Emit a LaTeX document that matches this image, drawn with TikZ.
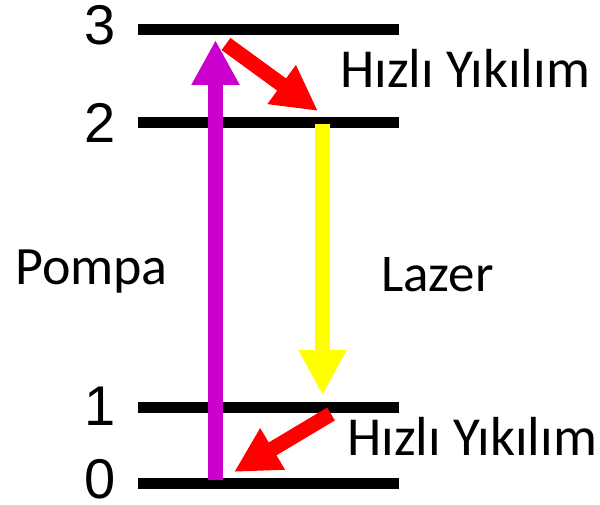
\documentclass[tikz,border=0pt]{standalone}
\usepackage{fontspec}
\setmainfont{Carlito}
\newfontfamily\digitfont{Liberation Sans}
\usetikzlibrary{arrows.meta}
\definecolor{pumpcol}{RGB}{204,0,204}
\definecolor{decaycol}{RGB}{255,0,0}
\definecolor{lasercol}{RGB}{255,255,0}
\tikzset{
  level/.style={line width=11pt},
  lvlnum/.style={inner sep=0pt, font=\digitfont\fontsize{56}{60}\selectfont},
  lbl/.style={inner sep=0pt, anchor=base west, font=\fontsize{53}{60}\selectfont},
  fat/.style={line width=15pt, -{Triangle[width=45pt,length=45pt]}}
}
\begin{document}
\begin{tikzpicture}[x=1pt,y=-1pt]
      \useasboundingbox (0,0) rectangle (600,505);
      \draw
        (100,25) node[lvlnum] (3){3}
        (100,123) node[lvlnum] (2){2}
        (100,406) node[lvlnum] (1){1}
        (100,479) node[lvlnum] (0){0};
      \coordinate (l3w) at (138,30);  \coordinate (l3e) at (399,30);
      \coordinate (l2w) at (138,123); \coordinate (l2e) at (399,123);
      \coordinate (l1w) at (138,407); \coordinate (l1e) at (399,407);
      \coordinate (l0w) at (138,483); \coordinate (l0e) at (399,483);
      \begin{scope}[level]
        \draw (l3w) to (l3e);
        \draw (l2w) to (l2e);
        \draw (l1w) to (l1e);
        \draw (l0w) to (l0e);
      \end{scope}
      % arrow ends
      \coordinate (pb) at (215.5,480); \coordinate (pt) at (215.5,40);
      \coordinate (ua) at (226,44);    \coordinate (ub) at (318,111);
      \coordinate (la) at (322.5,124); \coordinate (lb) at (322.5,395);
      \coordinate (da) at (331,414);   \coordinate (db) at (234,472);
      \begin{scope}[fat]
        \draw[pumpcol] (pb) to (pt);
        \draw[decaycol] (ua) to (ub);
        \draw[lasercol] (la) to (lb);
        \draw[decaycol] (da) to (db);
      \end{scope}
      \node[lbl, font=\fontsize{55}{60}\selectfont] (fast1) at (340,88) {Hızlı Yıkılım};
      \node[lbl, font=\fontsize{55}{60}\selectfont] (fast0) at (347,455) {Hızlı Yıkılım};
      \node[lbl, font=\fontsize{54}{60}\selectfont] (pump) at (15,284) {Pompa};
      \node[lbl] (laser) at (381,291) {Lazer};
    \end{tikzpicture}
\end{document}
